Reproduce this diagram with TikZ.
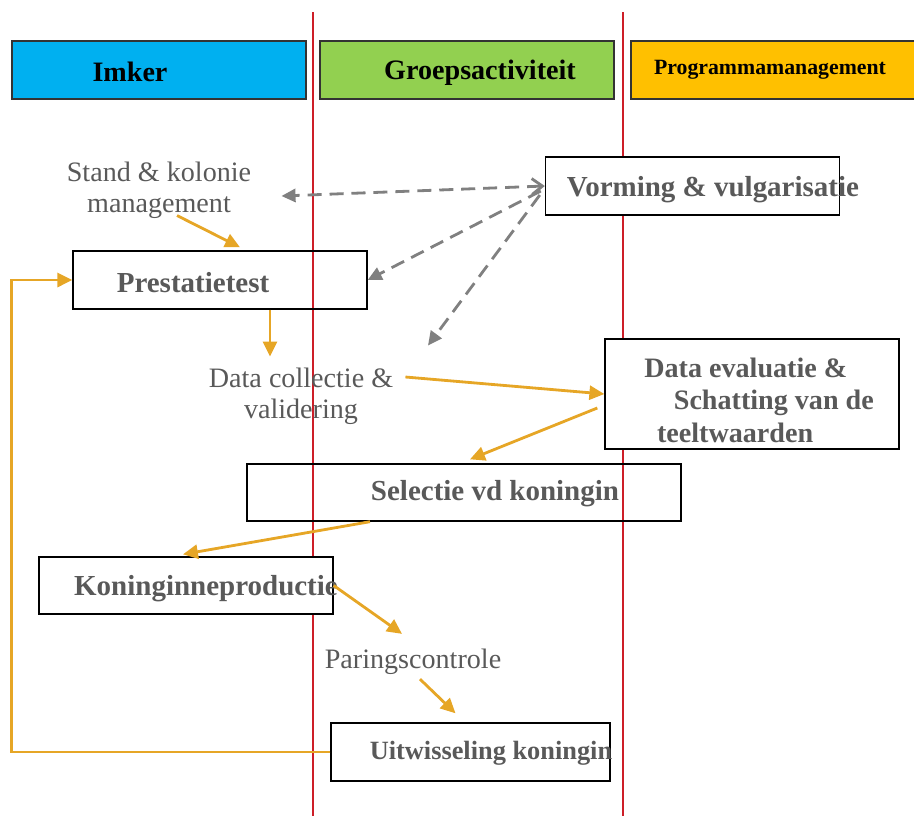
\documentclass[tikz,border=0pt]{standalone}
\usepackage{fontspec}
\setmainfont{Liberation Serif}
\usetikzlibrary{arrows.meta,positioning,calc}
\definecolor{imkerblue}{RGB}{0,176,240}
\definecolor{groepgreen}{RGB}{146,208,80}
\definecolor{progyellow}{RGB}{255,192,0}
\definecolor{flowgold}{RGB}{230,166,38}
\definecolor{txtgray}{RGB}{89,89,89}
\definecolor{lanered}{RGB}{205,30,40}
\tikzstyle{lanesep} = [draw=lanered, line width=0.6pt]
\tikzstyle{lanehead} = [rectangle, draw=black!80, line width=0.8pt, minimum width=5.88cm, minimum height=1.16cm]
\tikzstyle{headtext} = [inner sep=0pt, font=\fontsize{16}{19}\selectfont\bfseries]
\tikzstyle{stepbox} = [rectangle, draw=black, line width=0.8pt, minimum width=5.88cm, minimum height=1.16cm]
\tikzstyle{steptext} = [inner sep=0pt, text=txtgray, font=\fontsize{16.5}{18.5}\selectfont\bfseries]
\tikzstyle{note} = [inner sep=0pt, align=center, text=txtgray, font=\fontsize{16}{17.5}\selectfont]
\tikzstyle{flow} = [draw=flowgold, line width=1.6pt, -{Triangle[length=8.5pt, width=8pt]}]
\tikzstyle{infoflow} = [draw=black!50, line width=1.6pt, dash pattern=on 8pt off 4.5pt, -{Triangle[length=8pt, width=7.5pt]}]

\begin{document}
\begin{tikzpicture}[x=0.02cm, y=-0.02cm, font=\fontsize{14}{17.5}\selectfont]
    \useasboundingbox (0,0) rectangle (914,816);
    % scheidingslijnen
    \draw[lanesep] (313,12) -- (313,816);
    \draw[lanesep] (623,12) -- (623,816);

    % kopjes
    \node[lanehead, fill=imkerblue] (imker) at (159,70) {};
    \node[lanehead, fill=groepgreen] (groep) at (467,70) {};
    \node[lanehead, fill=progyellow, minimum width=5.8cm] (prog) at (776,70) {};
    \node[headtext] (imker-t) at (130,72) {Imker};
    \node[headtext] (groep-t) at (480,73) {Groepsactiviteit};
    \node[headtext, font=\fontsize{12.4}{14}\selectfont\bfseries] (prog-t) at (770,70) {Programmamanagement};

    % stappen
    \node[stepbox, fill=white] (vorm) at (692.5,186) {};
    \node[steptext] (vorm-t) at (713,190) {Vorming \& vulgarisatie};
    \node[stepbox] (prest) at (220,280) {};
    \node[steptext] (prest-t) at (193,283) {Prestatietest};
    \node[stepbox, fill=white, minimum height=2.2cm] (eval) at (752,394) {};
    \node[steptext, align=left, anchor=west, font=\fontsize{16}{18.5}\selectfont\bfseries] (eval-t) at (644,400) {Data evaluatie \&\\\hspace*{1.05em}Schatting van de\\\hspace*{0.45em}teeltwaarden};
    \node[stepbox, minimum width=8.68cm, minimum height=1.14cm] (sel) at (464,492.5) {};
    \node[steptext] (sel-t) at (495,494) {Selectie vd koningin};
    \node[stepbox, fill=white, minimum height=1.14cm] (kon) at (186,585.5) {};
    \node[steptext] (kon-t) at (206,589) {Koninginneproductie};
    \node[stepbox, fill=white, minimum width=5.58cm] (uitw) at (470.5,752) {};
    \node[steptext, font=\fontsize{15}{18}\selectfont\bfseries] (uitw-t) at (491,753) {Uitwisseling koningin};

    % tussenstappen
    \node[note] (stand) at (159,190) {Stand \& kolonie\\management};
    \node[note] (collect) at (301,396) {Data collectie \&\\validering};
    \node[note] (paring) at (413,662) {Paringscontrole};

    % informatie
    \draw[infoflow, {Straight Barb[length=6pt, width=9pt]}-{Triangle[length=8pt, width=7.5pt]}] (vorm.west) -- ($(stand.east)+(30,6)$);
    \draw[infoflow] ($(vorm.west)+(-4,5)$) -- (prest.east);
    \draw[infoflow] ($(vorm.west)+(-5,9)$) -- ($(collect.north)+(127,-22)$);

    % werkstroom
    \draw[flow] ($(stand.south)+(18,-3)$) -- ($(prest.north)+(20,-3)$);
    \draw[flow] ($(prest.south)+(50,0)$) -- ($(collect.north)+(-31,-11)$);
    \draw[flow] ($(collect.east)+(12,-19)$) -- (eval.west);
    \draw[flow] ($(eval.west)+(-7,14)$) -- ($(sel.north)+(6,-4)$);
    \draw[flow] ($(sel.south)+(-94,0)$) -- ($(kon.north)+(-3,-2)$);
    \draw[flow] (kon.east) -- ($(paring.north)+(-11,-15)$);
    \draw[flow] ($(paring.south)+(7,4)$) -- ($(uitw.north)+(-15,-9)$);
    \draw[flow] (uitw.west) -- ++(-319,0) |- (prest.west);
\end{tikzpicture}
\end{document}
